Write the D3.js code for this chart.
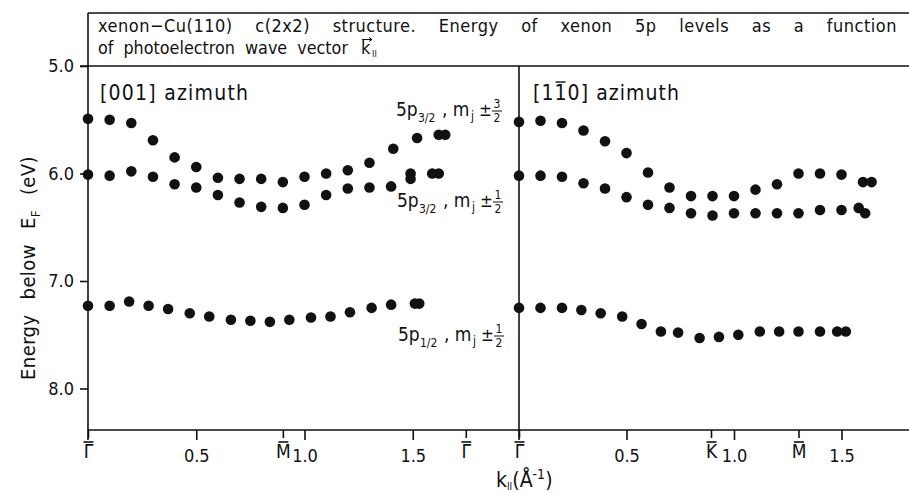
<!DOCTYPE html>
<html>
<head>
<meta charset="utf-8">
<script src="https://cdn.jsdelivr.net/npm/d3@7"></script>
<style>
  body { margin: 0; background: #fff; }
  text { font-family: "DejaVu Sans Condensed", "Liberation Sans Narrow", Roboto, sans-serif; fill: #111; }
</style>
</head>
<body>
<div id="chart"></div>
<script>
// ---- data (k in 1/Angstrom, E in eV below E_F) ----
// [001] azimuth
const leftK32 = [0, 0.1, 0.2, 0.3, 0.4, 0.5, 0.6, 0.7, 0.8, 0.9, 1.0, 1.1, 1.2, 1.3, 1.41, 1.52, 1.62, 1.65];
const leftE32 = [5.49, 5.50, 5.53, 5.69, 5.85, 5.94, 6.04, 6.05, 6.05, 6.08, 6.03, 6.00, 5.97, 5.90, 5.77, 5.67, 5.64, 5.64];
const leftK12 = [0, 0.1, 0.2, 0.3, 0.4, 0.5, 0.6, 0.7, 0.8, 0.9, 1.0, 1.1, 1.2, 1.3, 1.4, 1.49, 1.49, 1.59, 1.62];
const leftE12 = [6.01, 6.02, 5.98, 6.03, 6.10, 6.13, 6.20, 6.27, 6.31, 6.32, 6.29, 6.20, 6.14, 6.13, 6.12, 6.00, 6.05, 6.00, 6.00];
const leftKp12 = [0, 0.10, 0.19, 0.28, 0.37, 0.47, 0.56, 0.66, 0.75, 0.84, 0.93, 1.03, 1.12, 1.21, 1.31, 1.40, 1.51, 1.53];
const leftEp12 = [7.23, 7.23, 7.19, 7.23, 7.26, 7.30, 7.33, 7.36, 7.37, 7.38, 7.36, 7.34, 7.33, 7.29, 7.25, 7.22, 7.21, 7.21];

// [1-10] azimuth
const rightK32 = [0, 0.1, 0.2, 0.3, 0.4, 0.5, 0.6, 0.7, 0.8, 0.9, 1.0, 1.1, 1.2, 1.3, 1.4, 1.5, 1.60, 1.64];
const rightE32 = [5.52, 5.51, 5.53, 5.60, 5.70, 5.81, 5.99, 6.13, 6.21, 6.21, 6.21, 6.15, 6.10, 6.00, 6.00, 6.01, 6.08, 6.08];
const rightK12 = [0, 0.1, 0.2, 0.3, 0.4, 0.5, 0.6, 0.7, 0.8, 0.9, 1.0, 1.1, 1.2, 1.3, 1.4, 1.5, 1.58, 1.61];
const rightE12 = [6.02, 6.02, 6.03, 6.09, 6.14, 6.22, 6.29, 6.32, 6.37, 6.39, 6.37, 6.37, 6.37, 6.37, 6.34, 6.34, 6.32, 6.37];
const rightKp12 = [0, 0.10, 0.20, 0.29, 0.38, 0.48, 0.57, 0.66, 0.74, 0.84, 0.93, 1.02, 1.12, 1.21, 1.30, 1.40, 1.48, 1.52];
const rightEp12 = [7.25, 7.25, 7.25, 7.27, 7.30, 7.33, 7.40, 7.47, 7.48, 7.53, 7.52, 7.50, 7.47, 7.47, 7.47, 7.47, 7.47, 7.47];

// axis ticks
const yTicks = [5, 6, 7, 8];
const numTicks = [0.5, 1.0, 1.5];
const leftSymbols = [{k: 0, s: "Γ"}, {k: 0.9, s: "M"}, {k: 1.745, s: "Γ"}];
const rightSymbols = [{k: 0, s: "Γ"}, {k: 0.893, s: "K"}, {k: 1.30, s: "M"}];

// ---- layout ----
const W = 909, H = 493;
const frameX = 88, topY = 13, sepY = 66, midX = 519, axisY = 430;
const FONT = "\"DejaVu Sans Condensed\", \"Liberation Sans Narrow\", Roboto, sans-serif";

const svg = d3.select("#chart").append("svg")
  .attr("width", W).attr("height", H);

const y = d3.scaleLinear().domain([5, 8]).range([66, 388.5]);
const xL = d3.scaleLinear().domain([0, 1]).range([frameX, 304.5]);
const xR = d3.scaleLinear().domain([0, 1]).range([midX, 734]);

// stretch the gaps between words so a line fills a given width
function justify(sel, width) {
  const node = sel.node();
  const gaps = (node.textContent.match(/ /g) || []).length;
  const extra = width - node.getComputedTextLength();
  if (gaps > 0 && extra > 0) sel.attr("word-spacing", extra / gaps);
}

// frame lines
const frame = svg.append("g").attr("stroke", "#111").attr("stroke-width", 1.6).attr("fill", "none");
frame.append("path").attr("d", `M${frameX},${topY}H${W}`);
frame.append("path").attr("d", `M${frameX - 8},${sepY}H${W}`);
frame.append("path").attr("d", `M${frameX},${topY}V${axisY + 10}`);
frame.append("path").attr("d", `M${midX},${sepY}V${axisY + 10}`);
frame.append("path").attr("d", `M${frameX},${axisY}H${W}`);

// title
const t1 = svg.append("text").attr("x", 98).attr("y", 32).attr("font-size", 18)
  .attr("letter-spacing", 0.5)
  .text("xenon\u2212Cu(110) c(2x2) structure. Energy of xenon 5p levels as a function");
justify(t1, 799);
svg.append("text").attr("x", 98).attr("y", 54).attr("font-size", 18)
  .attr("word-spacing", 5)
  .attr("textLength", 250).attr("lengthAdjust", "spacingAndGlyphs")
  .text("of photoelectron wave vector");
svg.append("text").attr("x", 361).attr("y", 54).attr("font-size", 18).text("k");
svg.append("text").attr("x", 372).attr("y", 57).attr("font-size", 9).text("II");
svg.append("path").attr("d", "M362,39.5H372M369,37.5L372,39.5L369,41.5")
  .attr("stroke", "#111").attr("stroke-width", 1).attr("fill", "none");

// y axis
const yAxis = svg.append("g").attr("transform", `translate(${frameX},0)`)
  .call(d3.axisLeft(y).tickValues(yTicks).tickSize(8).tickFormat(d3.format(".1f")));
yAxis.select(".domain").remove();
yAxis.selectAll("line").attr("stroke", "#111").attr("stroke-width", 1.6);
yAxis.selectAll("text").attr("x", -14).attr("font-size", 18).style("font-family", FONT);

svg.append("text")
  .attr("transform", "translate(35,268) rotate(-90)")
  .attr("text-anchor", "middle").attr("font-size", 20)
  .attr("word-spacing", 9).attr("letter-spacing", 0.4)
  .html('Energy below E<tspan font-size="13" dy="5">F</tspan><tspan dy="-5"> (eV)</tspan>');

// x axes: numeric ticks and symmetry points
function drawXAxis(x, symbols) {
  const g = svg.append("g").attr("transform", `translate(0,${axisY})`)
    .call(d3.axisBottom(x).tickValues(numTicks).tickSize(10).tickFormat(d3.format(".1f")));
  g.select(".domain").remove();
  g.selectAll("line").attr("stroke", "#111").attr("stroke-width", 1.6);
  g.selectAll("text").attr("y", 19).attr("font-size", 18).style("font-family", FONT);

  const s = svg.append("g").attr("transform", `translate(0,${axisY})`)
    .call(d3.axisBottom(x).tickValues(symbols.map(d => d.k)).tickSize(8)
      .tickFormat((d, i) => symbols[i].s));
  s.select(".domain").remove();
  s.selectAll("line").attr("stroke", "#111").attr("stroke-width", 1.6);
  s.selectAll("text").attr("y", 15).attr("font-size", 19).style("font-family", FONT);
  s.selectAll(".tick").append("line")
    .attr("x1", -5).attr("x2", 5).attr("y1", 12).attr("y2", 12)
    .attr("stroke", "#111").attr("stroke-width", 1.6);
}
drawXAxis(xL, leftSymbols);
drawXAxis(xR, rightSymbols);

svg.append("text").attr("x", 496).attr("y", 487).attr("font-size", 21)
  .html('k<tspan font-size="10" dy="3">II</tspan><tspan dy="-3">(Å</tspan><tspan font-size="14" dy="-8">-1</tspan><tspan dy="8">)</tspan>');

// panel labels
svg.append("text").attr("x", 100).attr("y", 100).attr("font-size", 21)
  .attr("textLength", 148).attr("lengthAdjust", "spacing").text("[001] azimuth");
const az = svg.append("text").attr("x", 533).attr("y", 100).attr("font-size", 21)
  .attr("textLength", 146).attr("lengthAdjust", "spacing").text("[110] azimuth");
const azNode = az.node();
const b0 = azNode.getStartPositionOfChar(2).x, b1 = azNode.getEndPositionOfChar(2).x;
svg.append("line").attr("x1", b0 + 1).attr("x2", b1 - 1).attr("y1", 82).attr("y2", 82)
  .attr("stroke", "#111").attr("stroke-width", 1.4);

// level labels
function levelLabel(x0, y0, sub, num) {
  const g = svg.append("g");
  g.append("text").attr("x", x0).attr("y", y0).attr("font-size", 19).text("5p");
  g.append("text").attr("x", x0 + 22).attr("y", y0 + 6).attr("font-size", 12).text(sub);
  g.append("text").attr("x", x0 + 46).attr("y", y0).attr("font-size", 19).text(", m");
  g.append("text").attr("x", x0 + 75).attr("y", y0 + 4).attr("font-size", 12).text("j");
  g.append("text").attr("x", x0 + 83).attr("y", y0).attr("font-size", 17).text("±");
  g.append("text").attr("x", x0 + 101).attr("y", y0 - 8).attr("font-size", 12)
    .attr("text-anchor", "middle").text(num);
  g.append("line").attr("x1", x0 + 96).attr("x2", x0 + 106).attr("y1", y0 - 5).attr("y2", y0 - 5)
    .attr("stroke", "#111").attr("stroke-width", 1);
  g.append("text").attr("x", x0 + 101).attr("y", y0 + 6).attr("font-size", 12)
    .attr("text-anchor", "middle").text("2");
}
levelLabel(396, 116, "3/2", "3");
levelLabel(397, 207, "3/2", "1");
levelLabel(398, 341, "1/2", "1");

// data points
const series = [
  {x: xL, k: leftK32, e: leftE32},
  {x: xL, k: leftK12, e: leftE12},
  {x: xL, k: leftKp12, e: leftEp12},
  {x: xR, k: rightK32, e: rightE32},
  {x: xR, k: rightK12, e: rightE12},
  {x: xR, k: rightKp12, e: rightEp12}
];
series.forEach(function (s) {
  svg.append("g").selectAll("circle")
    .data(s.k.map((k, i) => ({k: k, e: s.e[i]})))
    .enter().append("circle")
    .attr("cx", d => s.x(d.k))
    .attr("cy", d => y(d.e))
    .attr("r", 5.3)
    .attr("fill", "#111");
});
</script>
</body>
</html>
